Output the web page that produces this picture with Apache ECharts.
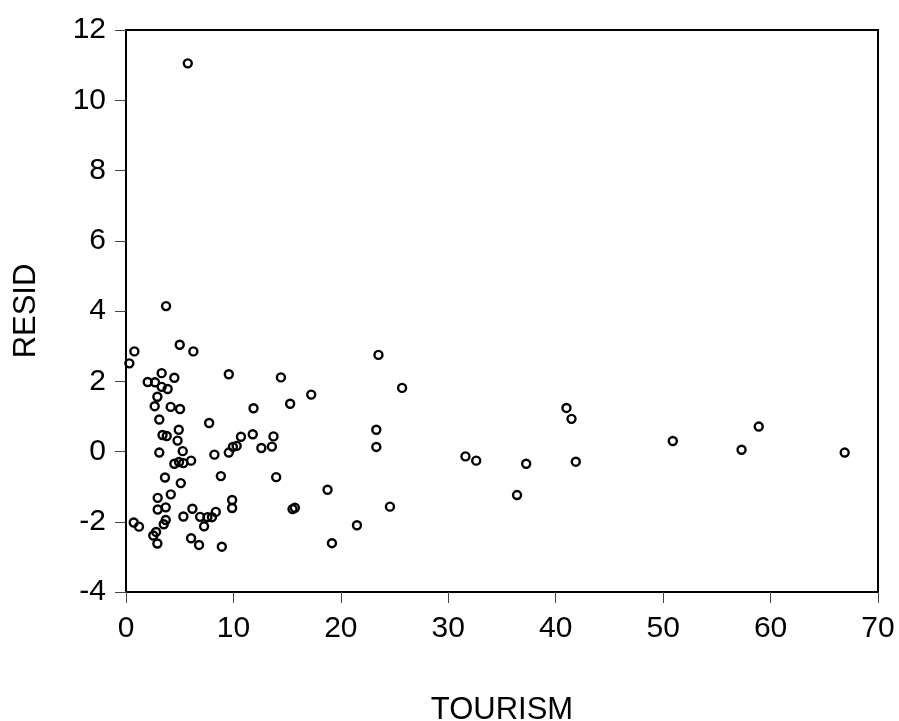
<!DOCTYPE html>
<html>
<head>
<meta charset="utf-8">
<script src="https://cdn.jsdelivr.net/npm/echarts@6/dist/echarts.min.js"></script>
<style>
    html, body { margin: 0; padding: 0; background: #fff; }
    #chart { width: 899px; height: 721px; }
</style>
</head>
<body>
<div id="chart"></div>
<script>
// 散点数据：TOURISM (x) 与 RESID (y)
var tourism = [
    3.73, 0.78, 0.31, 5.0, 6.27, 3.32, 4.5, 9.57, 2.02, 2.7,
    3.32, 3.88, 2.92, 2.67, 4.16, 5.03, 11.87, 3.1, 7.74, 4.91,
    3.4, 3.79, 4.8, 10.7, 11.8, 12.6, 10.3, 9.95, 9.57, 8.23,
    3.1, 5.28, 6.06, 4.5, 4.94, 5.34, 3.63, 8.83, 5.1, 4.17,
    2.95, 2.95, 3.7, 9.88, 9.88, 6.18, 5.34, 6.9, 7.58, 8.0,
    8.36, 7.27, 0.72, 1.21, 3.7, 3.51, 2.54, 2.8, 2.92, 6.06,
    6.8, 8.92, 5.75, 23.5, 14.42, 25.7, 17.24, 15.28, 23.3, 23.3,
    13.73, 13.58, 13.98, 18.76, 15.5, 15.72, 24.57, 21.5, 19.17, 41.0,
    41.47, 50.9, 58.9, 57.3, 66.9, 31.6, 32.6, 37.25, 41.87, 36.4
];
var resid = [
    4.14, 2.85, 2.51, 3.04, 2.85, 2.23, 2.10, 2.2, 1.98, 1.97,
    1.84, 1.78, 1.56, 1.29, 1.27, 1.21, 1.23, 0.91, 0.81, 0.62,
    0.47, 0.44, 0.31, 0.42, 0.49, 0.1, 0.16, 0.13, -0.03, -0.09,
    -0.03, 0.01, -0.26, -0.35, -0.30, -0.33, -0.74, -0.70, -0.9, -1.22,
    -1.32, -1.65, -1.59, -1.38, -1.61, -1.63, -1.85, -1.86, -1.87, -1.87,
    -1.72, -2.13, -2.02, -2.14, -1.95, -2.07, -2.39, -2.29, -2.62, -2.47,
    -2.66, -2.71, 11.05, 2.75, 2.11, 1.81, 1.62, 1.36, 0.62, 0.13,
    0.43, 0.14, -0.73, -1.09, -1.64, -1.6, -1.57, -2.1, -2.61, 1.24,
    0.93, 0.3, 0.71, 0.05, -0.03, -0.14, -0.26, -0.35, -0.29, -1.24
];
var xName = 'TOURISM';
var yName = 'RESID';

var points = [];
for (var i = 0; i < tourism.length; i++) {
    points.push([tourism[i], resid[i]]);
}

var font = 'Liberation Sans, Arial, sans-serif';
var myChart = echarts.init(document.getElementById('chart'), null, { renderer: 'canvas' });

var option = {
    backgroundColor: '#fff',
    animation: false,
    grid: {
        left: 126,
        right: 21,
        top: 30,
        bottom: 129,
        outerBoundsMode: 'none', // 不自动收缩网格
        containLabel: false,
        show: true,
        borderColor: '#000',
        borderWidth: 2,
        backgroundColor: 'transparent'
    },
    xAxis: {
        type: 'value',
        min: 0,
        max: 70,
        interval: 10,
        name: xName,
        nameLocation: 'middle',
        nameGap: 103,
        nameTextStyle: { fontFamily: font, fontSize: 31, color: '#000' },
        axisLine: { show: true, onZero: false, lineStyle: { color: '#000', width: 2 } },
        axisTick: { show: true, inside: false, length: 11, lineStyle: { color: '#444', width: 1 } },
        axisLabel: { margin: 22, fontFamily: font, fontSize: 30, color: '#000' },
        splitLine: { show: false }
    },
    yAxis: {
        type: 'value',
        min: -4,
        max: 12,
        interval: 2,
        name: yName,
        nameLocation: 'middle',
        nameGap: 84,
        nameRotate: 90,
        nameTextStyle: { fontFamily: font, fontSize: 31, color: '#000' },
        axisLine: { show: true, onZero: false, lineStyle: { color: '#000', width: 2 } },
        axisTick: { show: true, inside: false, length: 11, lineStyle: { color: '#444', width: 1 } },
        axisLabel: { margin: 20, fontFamily: font, fontSize: 30, color: '#000' },
        splitLine: { show: false }
    },
    series: [
        {
            name: yName,
            type: 'scatter',
            data: points,
            symbol: 'circle',
            symbolSize: 8,
            itemStyle: {
                color: 'rgba(0,0,0,0)',
                borderColor: '#000',
                borderWidth: 2.4,
                opacity: 1
            }
        }
    ]
};

myChart.setOption(option);
</script>
</body>
</html>
